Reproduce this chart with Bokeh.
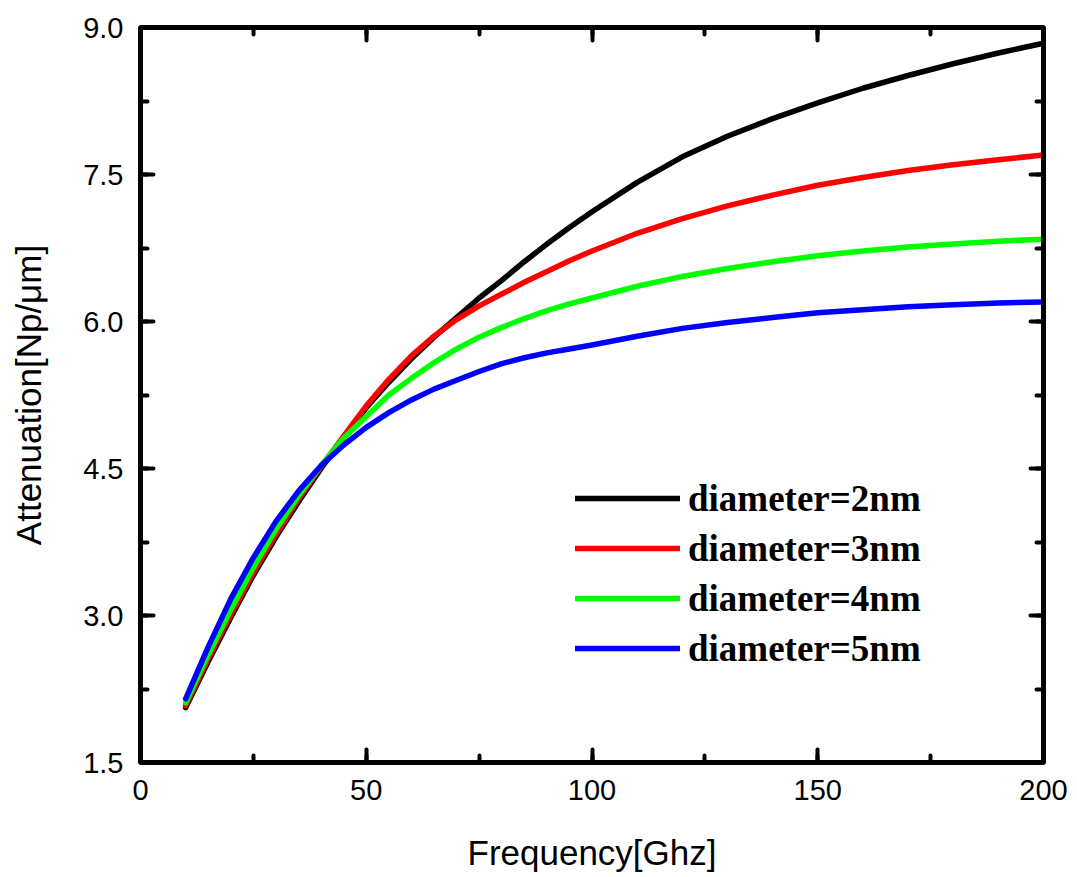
from bokeh.plotting import figure
from bokeh.models import (Range1d, LinearAxis, SingleIntervalTicker, NumeralTickFormatter,
                          Legend, LegendItem)
from bokeh.embed import file_html
from bokeh.resources import INLINE

# Frequency [GHz]
freq = [10, 15, 20, 25, 30, 35, 40, 45, 50, 55, 60, 65, 70, 75, 80, 85, 90, 95, 100,
        110, 120, 130, 140, 150, 160, 170, 180, 190, 200]
# Attenuation [Np/um] per diameter
att_2nm = [2.06, 2.53, 2.98, 3.41, 3.80, 4.16, 4.50, 4.82, 5.12, 5.38, 5.62, 5.84, 6.04, 6.24, 6.42,
           6.61, 6.79, 6.96, 7.12, 7.42, 7.68, 7.89, 8.07, 8.23, 8.38, 8.51, 8.63, 8.74, 8.84]
att_3nm = [2.08, 2.56, 3.01, 3.44, 3.83, 4.19, 4.52, 4.83, 5.14, 5.41, 5.65, 5.85, 6.02, 6.16, 6.28,
           6.40, 6.51, 6.62, 6.72, 6.90, 7.05, 7.18, 7.29, 7.39, 7.47, 7.54, 7.60, 7.65, 7.70]
att_4nm = [2.11, 2.60, 3.06, 3.49, 3.88, 4.22, 4.53, 4.81, 5.03, 5.25, 5.42, 5.58, 5.72, 5.84, 5.94,
           6.03, 6.11, 6.18, 6.24, 6.36, 6.46, 6.54, 6.61, 6.67, 6.72, 6.76, 6.79, 6.82, 6.84]
att_5nm = [2.15, 2.68, 3.17, 3.59, 3.96, 4.27, 4.53, 4.74, 4.92, 5.07, 5.20, 5.31, 5.40, 5.49, 5.57,
           5.63, 5.68, 5.72, 5.76, 5.85, 5.93, 5.99, 6.04, 6.09, 6.12, 6.15, 6.17, 6.19, 6.20]

series = [
    ("diameter=2nm", att_2nm, "#000000"),
    ("diameter=3nm", att_3nm, "#FF0000"),
    ("diameter=4nm", att_4nm, "#00FF00"),
    ("diameter=5nm", att_5nm, "#0000FF"),
]

x_title = "Frequency[Ghz]"
y_title = "Attenuation[Np/\u03bcm]"

p = figure(width=1077, height=877, output_backend="svg", toolbar_location=None,
           x_range=Range1d(0, 200), y_range=Range1d(1.5, 9.0),
           x_axis_location=None, y_axis_location=None,
           min_border_left=140, min_border_right=34, min_border_top=27, min_border_bottom=115)
p.grid.visible = False
p.outline_line_color = "black"
p.outline_line_width = 5
p.background_fill_color = "white"
p.border_fill_color = "white"

xt = SingleIntervalTicker(interval=50, num_minor_ticks=2)
yt = SingleIntervalTicker(interval=1.5, num_minor_ticks=2)

def style(ax, labels=True):
    ax.axis_line_width = 5
    ax.axis_line_color = "black"
    ax.major_tick_in = 13
    ax.major_tick_out = 0
    ax.minor_tick_in = 7
    ax.minor_tick_out = 0
    ax.major_tick_line_width = 4
    ax.minor_tick_line_width = 4
    ax.major_tick_line_cap = "round"
    ax.minor_tick_line_cap = "round"
    if labels:
        ax.major_label_text_font = "Liberation Sans"
        ax.major_label_text_font_size = "29px"
        ax.major_label_text_color = "black"
        ax.axis_label_text_font = "Liberation Sans"
        ax.axis_label_text_font_size = "35px"
        ax.axis_label_text_font_style = "normal"
        ax.axis_label_text_color = "black"
    else:
        ax.major_label_text_font_size = "0px"
        ax.major_label_text_color = None
        ax.major_label_standoff = 0

xb = LinearAxis(ticker=xt, axis_label=x_title)
style(xb)
xb.major_label_standoff = 17
xb.axis_label_standoff = 30
p.add_layout(xb, "below")

yl = LinearAxis(ticker=yt, axis_label=y_title,
                formatter=NumeralTickFormatter(format="0.0"))
style(yl)
yl.major_label_standoff = 17
yl.axis_label_standoff = 32
p.add_layout(yl, "left")

xa = LinearAxis(ticker=xt)
style(xa, labels=False)
p.add_layout(xa, "above")

yr = LinearAxis(ticker=yt)
style(yr, labels=False)
p.add_layout(yr, "right")

items = []
for name, vals, color in series:
    r = p.line(freq, vals, line_color=color, line_width=5.5, line_cap="round", line_join="round")
    items.append(LegendItem(label=name, renderers=[r]))

legend = Legend(items=items, location=(435, 89), orientation="vertical",
                border_line_color=None, background_fill_alpha=0,
                padding=0, margin=0, spacing=0,
                glyph_width=105, glyph_height=50, label_height=50,
                label_standoff=8,
                label_text_font="Liberation Serif", label_text_font_style="bold",
                label_text_font_size="37px", label_text_color="black")
p.add_layout(legend, "center")

open("out.html", "w").write(file_html(p, INLINE))
